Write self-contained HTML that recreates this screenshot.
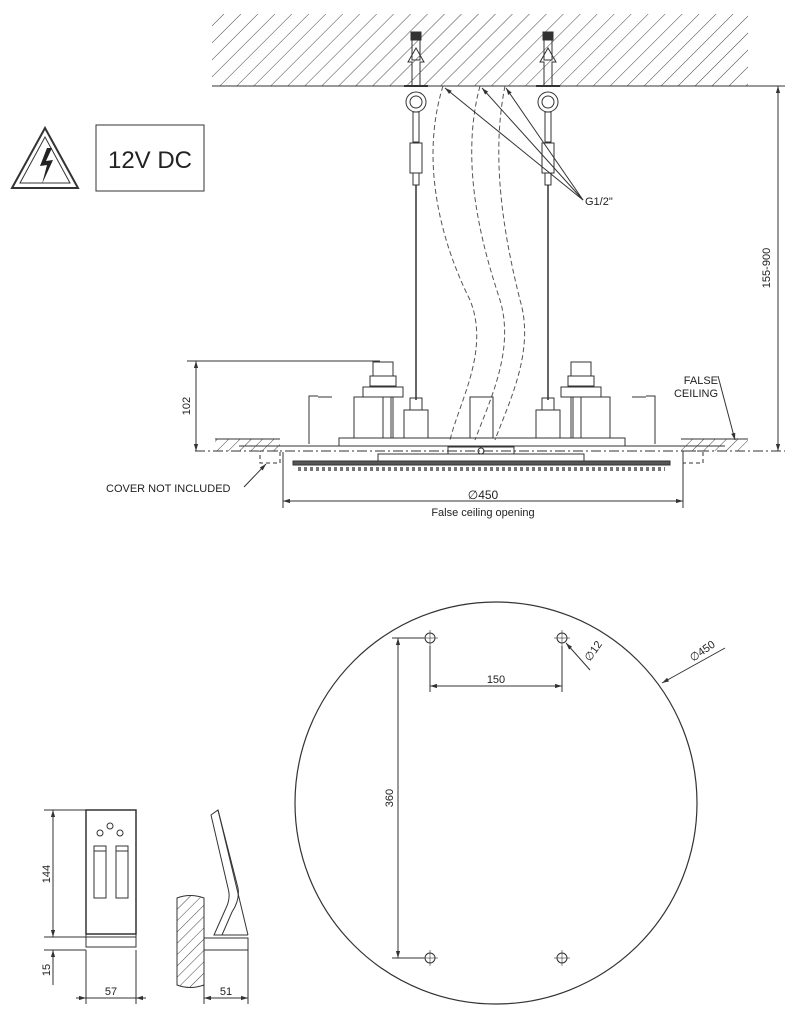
<!DOCTYPE html>
<html><head><meta charset="utf-8"><style>body{margin:0;background:#fff}svg{display:block}text{font-family:"Liberation Sans",sans-serif;fill:#222;stroke:none}</style></head><body>
<svg width="795" height="1024" viewBox="0 0 795 1024" xmlns="http://www.w3.org/2000/svg" stroke="#333" fill="none" stroke-width="1">
<defs>
<pattern id="h" width="12" height="12" patternUnits="userSpaceOnUse" patternTransform="rotate(45)"><line x1="0" y1="0" x2="0" y2="12" stroke="#444" stroke-width="1"/></pattern>
<pattern id="h2" width="8" height="8" patternUnits="userSpaceOnUse" patternTransform="rotate(45)"><line x1="0" y1="0" x2="0" y2="8" stroke="#444" stroke-width="1"/></pattern>
<marker id="a" viewBox="0 0 10 10" refX="10" refY="5" markerWidth="7" markerHeight="7" orient="auto-start-reverse"><path d="M0,2 L10,5 L0,8z" fill="#333" stroke="none"/></marker>
</defs>
<rect x="212" y="14" width="536" height="72" fill="url(#h)" stroke="none"/>
<line x1="212" y1="86" x2="785" y2="86"/>
<line x1="778" y1="86" x2="778" y2="451" marker-start="url(#a)" marker-end="url(#a)"/>
<text x="770" y="268" font-size="11" transform="rotate(-90 770 268)" text-anchor="middle">155-900</text>
<path d="M12,188 L78,188 L45,128Z" stroke-width="2"/>
<path d="M20,183 L70,183 L45,137Z"/>
<path d="M47,148 L40,166 L47,165 L42,184 L53,160 L46,161 L52,148Z" fill="#222" stroke="none"/>
<rect x="96" y="125" width="108" height="66"/>
<text x="150" y="168" font-size="24" text-anchor="middle">12V DC</text>
<g id="hg">
<rect x="411" y="32" width="10" height="8" fill="#333"/>
<rect x="412" y="40" width="8" height="20"/>
<path d="M408,62 L416,48 L424,62 L420,62 L420,86 L412,86 L412,62Z"/>
<line x1="404" y1="86" x2="428" y2="86" stroke-width="2"/>
<circle cx="416" cy="102" r="10"/><circle cx="416" cy="102" r="6"/>
<rect x="413" y="112" width="6" height="30"/>
<rect x="410" y="143" width="12" height="30"/>
<rect x="413" y="173" width="6" height="12"/>
<line x1="416" y1="185" x2="416" y2="400" stroke-width="1.5"/>
</g>
<use href="#hg" x="132"/>
<g stroke-dasharray="5,3" stroke="#555">
<path d="M443,86 C420,160 440,240 470,300 C490,350 460,400 450,440"/>
<path d="M480,86 C460,160 480,240 500,300 C515,350 490,400 475,440"/>
<path d="M505,86 C490,160 505,240 520,300 C535,350 510,400 495,440"/>
</g>
<line x1="583" y1="200" x2="445" y2="88" marker-end="url(#a)"/>
<line x1="583" y1="200" x2="482" y2="88" marker-end="url(#a)"/>
<line x1="583" y1="200" x2="506" y2="88" marker-end="url(#a)"/>
<text x="585" y="205" font-size="11">G1/2"</text>
<rect x="215" y="439" width="65" height="12" fill="url(#h2)" stroke="none"/>
<rect x="681" y="439" width="67" height="12" fill="url(#h2)" stroke="none"/>
<line x1="195" y1="451" x2="785" y2="451" stroke-dasharray="10,3,2,3"/>
<line x1="215" y1="439" x2="280" y2="439"/><line x1="681" y1="439" x2="748" y2="439"/>
<line x1="239" y1="446" x2="725" y2="446"/>
<rect x="339" y="438" width="286" height="8"/>
<line x1="187" y1="361" x2="380" y2="361"/>
<line x1="196" y1="361" x2="196" y2="451" marker-start="url(#a)" marker-end="url(#a)"/>
<text x="190" y="406" font-size="11" transform="rotate(-90 190 406)" text-anchor="middle">102</text>
<g id="bd">
<path d="M309,444 L309,396 L318,396"/><line x1="318" y1="397" x2="332" y2="397"/>
<rect x="354" y="397" width="39" height="41"/>
<rect x="373" y="362" width="20" height="14"/><rect x="370" y="376" width="26" height="10"/>
<rect x="363" y="387" width="40" height="10"/>
<rect x="383" y="397" width="8" height="41"/>
<rect x="404" y="410" width="24" height="28"/><rect x="410" y="398" width="12" height="12"/>
</g>
<use href="#bd" transform="translate(964 0) scale(-1 1)"/>
<rect x="470" y="397" width="23" height="41"/>
<rect x="293" y="461" width="377" height="4" fill="#555"/>
<rect x="378" y="454" width="206" height="7"/>
<rect x="448" y="447" width="66" height="7"/>
<circle cx="481" cy="451" r="3"/>
<line x1="298" y1="469" x2="665" y2="469" stroke-dasharray="3,3" stroke-width="4" stroke="#777"/>
<rect x="260" y="451" width="20" height="12" stroke-dasharray="4,3"/><rect x="683" y="451" width="20" height="12" stroke-dasharray="4,3"/>
<text x="718" y="384" font-size="11" text-anchor="end">FALSE</text>
<text x="718" y="397" font-size="11" text-anchor="end">CEILING</text>
<line x1="718" y1="376" x2="735" y2="440" marker-end="url(#a)"/>
<text x="106" y="492" font-size="11">COVER NOT INCLUDED</text>
<line x1="244" y1="487" x2="266" y2="464" marker-end="url(#a)"/>
<line x1="283" y1="452" x2="283" y2="508"/><line x1="683" y1="452" x2="683" y2="508"/>
<line x1="283" y1="501" x2="683" y2="501" marker-start="url(#a)" marker-end="url(#a)"/>
<text x="483" y="499" font-size="12" text-anchor="middle">∅450</text>
<text x="483" y="516" font-size="11" text-anchor="middle">False ceiling opening</text>
<circle cx="496" cy="803" r="201" stroke-width="1.2"/>
<g id="hl"><circle cx="430" cy="638" r="5"/><line x1="422" y1="638" x2="438" y2="638" stroke-width=".6"/><line x1="430" y1="630" x2="430" y2="646" stroke-width=".6"/></g>
<use href="#hl" x="132"/><use href="#hl" y="320"/><use href="#hl" x="132" y="320"/>
<line x1="430" y1="646" x2="430" y2="692"/><line x1="562" y1="646" x2="562" y2="692"/>
<line x1="430" y1="686" x2="562" y2="686" marker-start="url(#a)" marker-end="url(#a)"/>
<text x="496" y="683" font-size="11" text-anchor="middle">150</text>
<line x1="392" y1="638" x2="424" y2="638"/><line x1="392" y1="958" x2="424" y2="958"/>
<line x1="398" y1="638" x2="398" y2="958" marker-start="url(#a)" marker-end="url(#a)"/>
<text x="393" y="798" font-size="11" transform="rotate(-90 393 798)" text-anchor="middle">360</text>
<line x1="590" y1="670" x2="566" y2="643" marker-end="url(#a)"/>
<text x="590" y="662" font-size="11" transform="rotate(-55 590 662)">∅12</text>
<line x1="725" y1="648" x2="662" y2="683" marker-end="url(#a)"/>
<text x="693" y="662" font-size="11" transform="rotate(-35 693 662)">∅450</text>
<rect x="86" y="810" width="50" height="124" stroke-width="1.5"/>
<rect x="86" y="934" width="50" height="13"/>
<line x1="86" y1="937" x2="136" y2="937"/>
<circle cx="100" cy="833" r="3"/><circle cx="110" cy="826" r="3"/><circle cx="120" cy="833" r="3"/>
<rect x="94" y="846" width="12" height="52"/><rect x="116" y="846" width="12" height="52"/>
<line x1="94" y1="851" x2="106" y2="851"/><line x1="116" y1="851" x2="128" y2="851"/>
<line x1="44" y1="810" x2="86" y2="810"/><line x1="44" y1="937" x2="86" y2="937"/><line x1="44" y1="950" x2="86" y2="950"/>
<line x1="53" y1="810" x2="53" y2="937" marker-start="url(#a)" marker-end="url(#a)"/>
<line x1="53" y1="950" x2="53" y2="985" marker-start="url(#a)"/>
<text x="50" y="874" font-size="11" transform="rotate(-90 50 874)" text-anchor="middle">144</text>
<text x="50" y="970" font-size="11" transform="rotate(-90 50 970)" text-anchor="middle">15</text>
<line x1="86" y1="950" x2="86" y2="1004"/><line x1="136" y1="950" x2="136" y2="1004"/>
<line x1="76" y1="998" x2="86" y2="998" marker-end="url(#a)"/><line x1="86" y1="998" x2="146" y2="998"/><line x1="146" y1="998" x2="136" y2="998" marker-end="url(#a)"/>
<text x="111" y="995" font-size="11" text-anchor="middle">57</text>
<path d="M177,898 Q190,893 204,898 L204,985 Q190,990 177,985Z" fill="url(#h2)"/>
<rect x="204" y="938" width="44" height="12"/>
<path d="M211,815 L218,810 L238,888 Q240,900 232,912 L222,935 L214,935 L226,908 Q231,898 228,888Z"/>
<line x1="218" y1="810" x2="248" y2="935"/>
<line x1="214" y1="935" x2="248" y2="935"/>
<line x1="204" y1="950" x2="204" y2="1004"/><line x1="248" y1="950" x2="248" y2="1004"/>
<line x1="204" y1="998" x2="248" y2="998" marker-start="url(#a)" marker-end="url(#a)"/>
<text x="226" y="995" font-size="11" text-anchor="middle">51</text>
</svg>
</body></html>
